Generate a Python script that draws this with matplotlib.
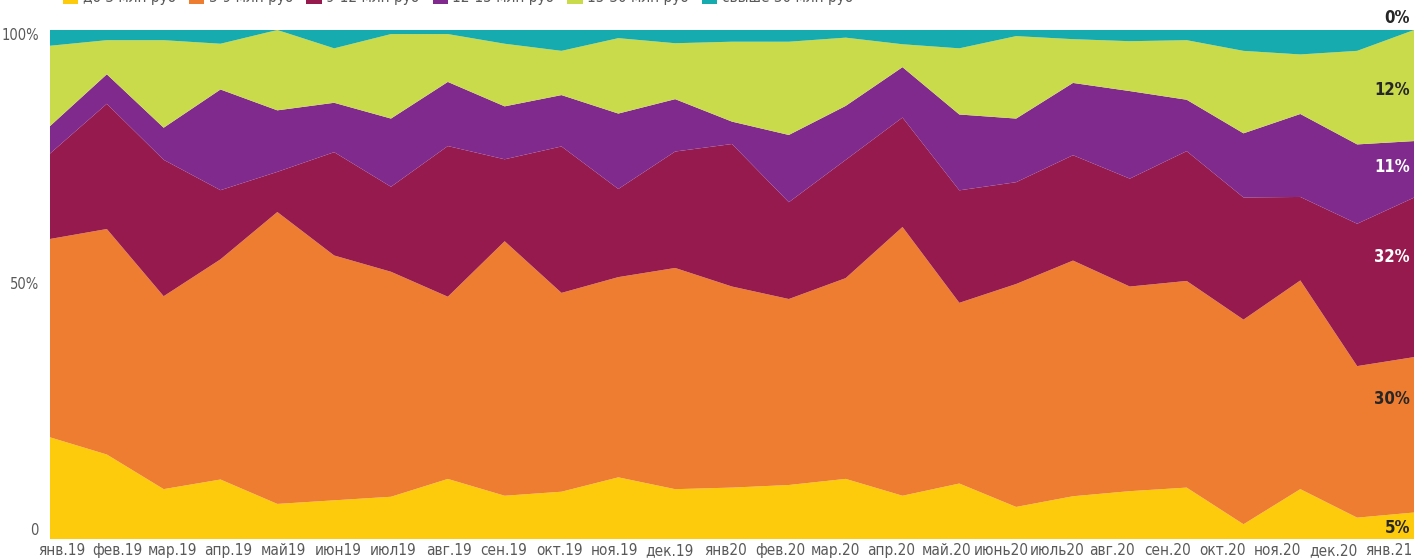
import matplotlib
matplotlib.use("Agg")
import matplotlib.pyplot as plt
import numpy as np
from matplotlib.patches import Patch

plt.rcParams['font.family'] = ['DejaVu Sans']
plt.rcParams['font.stretch'] = 'condensed'

months = ["янв.19", "фев.19", "мар.19", "апр.19", "май19", "июн19", "июл19", "авг.19",
          "сен.19", "окт.19", "ноя.19", "дек.19", "янв20", "фев.20", "мар.20", "апр.20",
          "май.20", "июнь20", "июль20", "авг.20", "сен.20", "окт.20", "ноя.20", "дек.20", "янв.21"]

series_names = ["до 3 млн руб", "3-9 млн руб", "9-12 млн руб", "12-15 млн руб",
                "15-30 млн руб", "свыше 30 млн руб"]

s_lt3 = [20.0, 16.6, 9.8, 11.7, 6.9, 7.6, 8.3, 11.8, 8.5, 9.3, 12.1, 9.8, 10.1,
         10.6, 11.8, 8.5, 10.9, 6.3, 8.4, 9.4, 10.1, 2.9, 9.8, 4.2, 5.2]
s_3_9 = [39.0, 44.3, 37.9, 43.3, 57.4, 48.1, 44.2, 35.8, 50.0, 39.1, 39.3, 43.5, 39.5,
         36.5, 39.4, 52.8, 35.5, 43.8, 46.3, 40.2, 40.6, 40.2, 41.0, 29.8, 30.5]
s_9_12 = [16.8, 24.6, 26.8, 13.6, 7.9, 20.3, 16.7, 29.6, 16.1, 28.8, 17.3, 22.9, 28.0,
          19.0, 23.2, 21.5, 22.1, 20.0, 20.7, 21.2, 25.5, 24.0, 16.4, 28.0, 31.3]
s_12_15 = [5.4, 5.8, 6.3, 19.8, 12.1, 9.7, 13.4, 12.6, 10.4, 10.1, 14.8, 10.3, 4.4,
           13.2, 10.6, 9.9, 14.9, 12.5, 14.2, 17.2, 10.1, 12.6, 16.3, 15.6, 11.1]
s_15_30 = [15.8, 6.7, 17.2, 9.0, 15.8, 10.7, 16.6, 9.4, 12.3, 8.7, 14.8, 11.0, 15.7,
           18.3, 13.4, 4.5, 13.0, 16.2, 8.6, 9.8, 11.7, 16.2, 11.7, 18.4, 21.8]
s_gt30 = [3.1, 2.0, 2.0, 2.7, 0.0, 3.6, 0.8, 0.8, 2.7, 4.1, 1.6, 2.6, 2.3,
          2.3, 1.5, 2.8, 3.6, 1.2, 1.8, 2.2, 2.0, 4.1, 4.8, 4.1, 0.0]

y_tick_labels = ["0", "50%", "100%"]

end_labels = ["5%", "30%", "32%", "11%", "12%", "0%"]
end_label_y = [2.2, 27.5, 55.4, 73.1, 88.2, 102.4]
end_label_colors = ["#262626", "#262626", "white", "white", "#262626", "#262626"]

colors = ["#FECB0C", "#EE7D31", "#961A4D", "#7F2A8C", "#C9DA4B", "#16ABAE"]

data = np.array([s_lt3, s_3_9, s_9_12, s_12_15, s_15_30, s_gt30])
data = data / data.sum(axis=0) * 100.0
x = np.arange(len(months))

fig = plt.figure(figsize=(14.14, 5.58), dpi=100)
ax = fig.add_axes([50 / 1414, 19 / 558, 1 - 50 / 1414, 509 / 558])

ax.stackplot(x, data, colors=colors, linewidth=0)
ax.axhline(100, color="#d9d9d9", lw=1, zorder=0)

ax.set_xlim(0, len(months) - 1)
ax.set_ylim(0, 100)
for sp in ax.spines.values():
    sp.set_visible(False)

ax.set_yticks([2.0, 50.3, 99.2])
ax.set_yticklabels(y_tick_labels)
ax.tick_params(axis='y', length=0, pad=8, labelsize=10.5, labelcolor="#595959")

tick_pos = np.linspace(0.21, 23.55, len(months))
ax.set_xticks(tick_pos)
ax.set_xticklabels(months)
ax.tick_params(axis='x', length=0, pad=3, labelsize=11, labelcolor="#595959")

for lab, yv, c in zip(end_labels, end_label_y, end_label_colors):
    ax.text(23.93, yv, lab, ha='right', va='center', fontsize=12, fontweight='bold',
            color=c, clip_on=False)

handles = [Patch(facecolor=c, edgecolor='none') for c in colors]
fig.legend(handles, series_names, loc='center', bbox_to_anchor=(0.324, 1.005), ncol=6,
           frameon=False, fontsize=11, handlelength=1.0, handleheight=1.0,
           handletextpad=0.3, columnspacing=0.85, labelcolor="#595959")

fig.savefig("out.png", dpi=100)
